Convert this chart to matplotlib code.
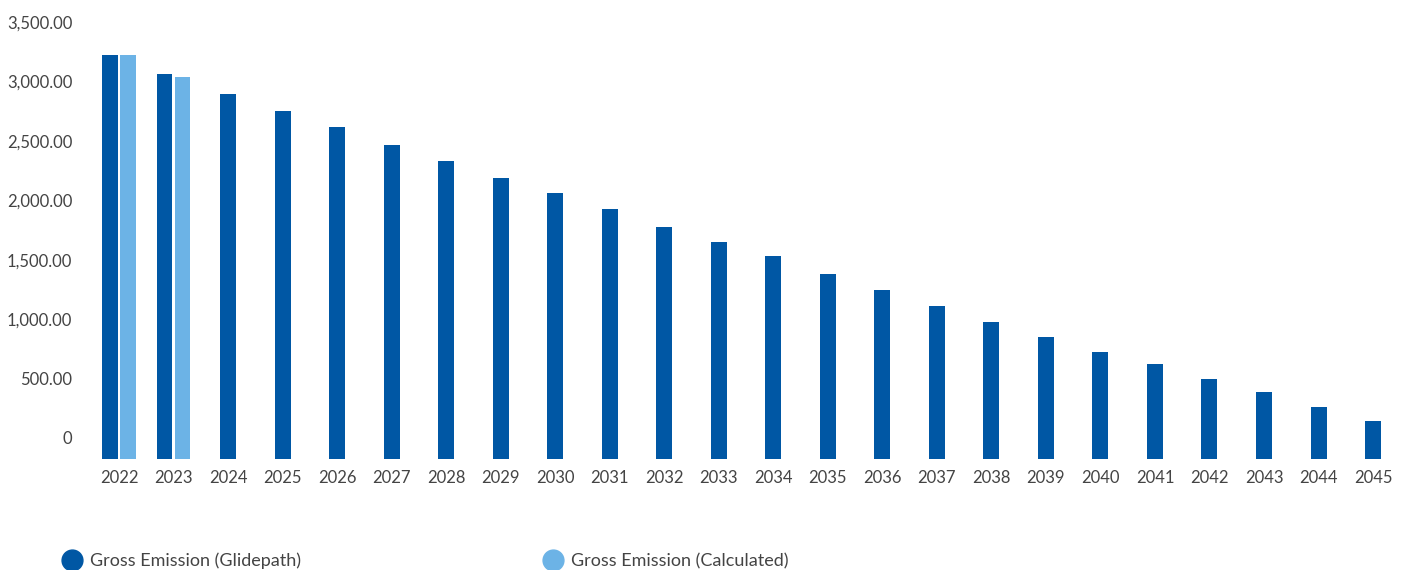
import matplotlib
matplotlib.use("Agg")
import matplotlib.pyplot as plt
from matplotlib.lines import Line2D
import numpy as np

plt.rcParams['font.family'] = ['Lato', 'DejaVu Sans']

years = [str(y) for y in range(2022, 2046)]
glidepath = [3222, 3062, 2894, 2751, 2617, 2465, 2330, 2187, 2061, 1927, 1775, 1649,
             1531, 1380, 1245, 1111, 976, 850, 724, 623, 496, 387, 261, 143]
calculated = [3222, 3037] + [None] * 22
series_names = ["Gross Emission (Glidepath)", "Gross Emission (Calculated)"]
y_ticks = [0, 500, 1000, 1500, 2000, 2500, 3000, 3500]

dark = "#0057a4"
light = "#6cb3e6"
text_col = "#444444"

axis_floor = -181
y_top = 3500
bar_w = 0.293
offset = 0.165

fig = plt.figure(figsize=(14.05, 5.7), dpi=100)
ax = fig.add_axes([0.06527, 0.19386, 0.9314, 0.76754])

x = np.arange(len(years))
for i, (g, c) in enumerate(zip(glidepath, calculated)):
    if c is not None:
        ax.bar(i - offset, g - axis_floor, bottom=axis_floor, width=bar_w, color=dark, linewidth=0)
        ax.bar(i + offset, c - axis_floor, bottom=axis_floor, width=bar_w, color=light, linewidth=0)
    else:
        ax.bar(i, g - axis_floor, bottom=axis_floor, width=bar_w, color=dark, linewidth=0)

ax.set_xlim(-0.5, len(years) - 0.5)
ax.set_ylim(axis_floor, y_top)
ax.set_xticks(x)
ax.set_xticklabels(years)
ax.set_yticks(y_ticks)
ax.set_yticklabels(["0" if t == 0 else f"{t:,.2f}" for t in y_ticks])
ax.tick_params(axis='both', length=0, labelsize=12, labelcolor=text_col)
ax.tick_params(axis='y', pad=14)
ax.tick_params(axis='x', pad=7.5)
for s in ax.spines.values():
    s.set_visible(False)

h1 = Line2D([], [], marker='o', linestyle='none', markersize=15, color=dark)
h2 = Line2D([], [], marker='o', linestyle='none', markersize=15, color=light)
leg1 = fig.legend([h1], [series_names[0]], loc='center left', bbox_to_anchor=(0.027, 0.016),
                  frameon=False, fontsize=13, handletextpad=0.0, labelcolor=text_col)
leg2 = fig.legend([h2], [series_names[1]], loc='center left', bbox_to_anchor=(0.369, 0.016),
                  frameon=False, fontsize=13, handletextpad=0.0, labelcolor=text_col)

fig.savefig("out.png", dpi=100)
